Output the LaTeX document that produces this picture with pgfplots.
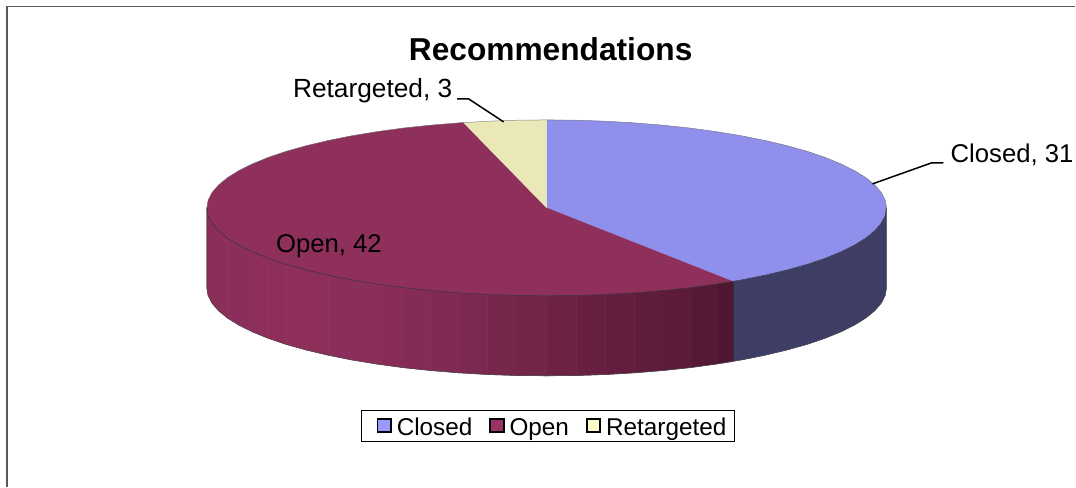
\documentclass[border=0pt]{standalone}
\usepackage{pgfplots}
\pgfplotsset{compat=1.18}
\usepackage{fontspec}
\setmainfont{Liberation Sans}
\definecolor{cTop}{HTML}{8F8FEC}
\definecolor{oTop}{HTML}{8E2F5C}
\definecolor{rTop}{HTML}{EBE8B8}
\definecolor{cSide}{HTML}{3D3D66}
\definecolor{oDark}{HTML}{47132C}
\definecolor{cLeg}{HTML}{9999FF}
\definecolor{oLeg}{HTML}{993366}
\definecolor{rLeg}{HTML}{FFFFCC}
\newcommand\band[7]{\addplot[forget plot,fill=oDark!#1!oTop,draw=oDark!#1!oTop,line width=0.6pt] coordinates {(#2,#3)(#4,#5)(#4,#7)(#2,#6)} -- cycle;}
\begin{document}
\begin{tikzpicture}
\begin{axis}[
  width=1076pt,height=487pt,scale only axis,
  xmin=0,xmax=1076,ymin=0,ymax=487,y dir=reverse,
  hide axis,ticks=none,clip=false,
  legend columns=3,
  legend style={at={(axis cs:548.5,426.5)},anchor=center,draw=black,line width=0.9pt,
    font=\fontsize{24.3}{28}\selectfont,inner xsep=6.5pt,inner ysep=3pt,
    /tikz/every odd column/.append style={column sep=3pt},
    /tikz/every even column/.append style={column sep=15pt}},
  legend cell align=left,
]
% frame
\addplot[forget plot,color=black!65,line width=1.3pt] coordinates {(7,487)(7,6.5)(1076,6.5)};
% closed side
\addplot[forget plot,fill=cSide,draw=cSide,line width=0.3pt] coordinates {(887,208)(885.7,215.7)(881.8,223.3)(875.4,230.8)(866.5,238.1)(855.1,245.2)(841.4,252)(825.5,258.5)(807.5,264.6)(787.4,270.2)(765.5,275.4)(742,280.1)(733.2,281.6)(733.2,361.6)(742,360.1)(765.5,355.4)(787.4,350.2)(807.5,344.6)(825.5,338.5)(841.4,332)(855.1,325.2)(866.5,318.1)(875.4,310.8)(881.8,303.3)(885.7,295.7)(887,288)} -- cycle;
% open side bands
\band{90}{733.2}{281.6}{717}{284.2}{361.6}{364.2}
\band{80}{717}{284.2}{690.7}{287.8}{364.2}{367.8}
\band{72}{690.7}{287.8}{663.3}{290.7}{367.8}{370.7}
\band{66}{663.3}{290.7}{635}{293}{370.7}{373}
\band{60}{635}{293}{606}{294.7}{373}{374.7}
\band{54}{606}{294.7}{576.6}{295.7}{374.7}{375.7}
\band{47}{576.6}{295.7}{547}{296}{375.7}{376}
\band{40}{547}{296}{517.4}{295.7}{376}{375.7}
\band{33}{517.4}{295.7}{488}{294.7}{375.7}{374.7}
\band{25}{488}{294.7}{459}{293}{374.7}{373}
\band{18}{459}{293}{430.7}{290.7}{373}{370.7}
\band{12}{430.7}{290.7}{403.3}{287.8}{370.7}{367.8}
\band{8}{403.3}{287.8}{377}{284.2}{367.8}{364.2}
\band{5}{377}{284.2}{352}{280.1}{364.2}{360.1}
\band{3}{352}{280.1}{328.5}{275.4}{360.1}{355.4}
\band{2}{328.5}{275.4}{306.6}{270.2}{355.4}{350.2}
\band{2}{306.6}{270.2}{286.5}{264.6}{350.2}{344.6}
\band{2}{286.5}{264.6}{268.5}{258.5}{344.6}{338.5}
\band{2}{268.5}{258.5}{252.6}{252}{338.5}{332}
\band{3}{252.6}{252}{238.9}{245.2}{332}{325.2}
\band{3}{238.9}{245.2}{227.5}{238.1}{325.2}{318.1}
\band{4}{227.5}{238.1}{218.6}{230.8}{318.1}{310.8}
\band{5}{218.6}{230.8}{212.2}{223.3}{310.8}{303.3}
\band{6}{212.2}{223.3}{208.3}{215.7}{303.3}{295.7}
\band{8}{208.3}{215.7}{207}{208}{295.7}{288}
% top faces
\addplot[forget plot,fill=cTop,draw=cTop,line width=0.2pt] coordinates {(547,208)(547,120)(576.6,120.3)(606,121.3)(635,123)(663.3,125.3)(690.7,128.2)(717,131.8)(742,135.9)(765.5,140.6)(787.4,145.8)(807.5,151.4)(825.5,157.5)(841.4,164)(855.1,170.8)(866.5,177.9)(875.4,185.2)(881.8,192.7)(885.7,200.3)(887,208)(885.7,215.7)(881.8,223.3)(875.4,230.8)(866.5,238.1)(855.1,245.2)(841.4,252)(825.5,258.5)(807.5,264.6)(787.4,270.2)(765.5,275.4)(742,280.1)(733.2,281.6)} -- cycle;
\addplot[forget plot,fill=oTop,draw=oTop,line width=0.2pt] coordinates {(547,208)(733.2,281.6)(717,284.2)(690.7,287.8)(663.3,290.7)(635,293)(606,294.7)(576.6,295.7)(547,296)(517.4,295.7)(488,294.7)(459,293)(430.7,290.7)(403.3,287.8)(377,284.2)(352,280.1)(328.5,275.4)(306.6,270.2)(286.5,264.6)(268.5,258.5)(252.6,252)(238.9,245.2)(227.5,238.1)(218.6,230.8)(212.2,223.3)(208.3,215.7)(207,208)(208.3,200.3)(212.2,192.7)(218.6,185.2)(227.5,177.9)(238.9,170.8)(252.6,164)(268.5,157.5)(286.5,151.4)(306.6,145.8)(328.5,140.6)(352,135.9)(377,131.8)(403.3,128.2)(430.7,125.3)(459,123)(463.8,122.7)} -- cycle;
\addplot[forget plot,fill=rTop,draw=rTop,line width=0.2pt] coordinates {(547,208)(463.8,122.7)(488,121.3)(517.4,120.3)(547,120)} -- cycle;
% edges
\addplot[forget plot,color=black!55,line width=0.5pt,opacity=0.8] coordinates {(207,208)(208.3,200.3)(212.2,192.7)(218.6,185.2)(227.5,177.9)(238.9,170.8)(252.6,164)(268.5,157.5)(286.5,151.4)(306.6,145.8)(328.5,140.6)(352,135.9)(377,131.8)(403.3,128.2)(430.7,125.3)(459,123)(488,121.3)(517.4,120.3)(547,120)(576.6,120.3)(606,121.3)(635,123)(663.3,125.3)(690.7,128.2)(717,131.8)(742,135.9)(765.5,140.6)(787.4,145.8)(807.5,151.4)(825.5,157.5)(841.4,164)(855.1,170.8)(866.5,177.9)(875.4,185.2)(881.8,192.7)(885.7,200.3)(887,208)};
\addplot[forget plot,color=black!80,line width=0.5pt] coordinates {(887,208)(885.7,215.7)(881.8,223.3)(875.4,230.8)(866.5,238.1)(855.1,245.2)(841.4,252)(825.5,258.5)(807.5,264.6)(787.4,270.2)(765.5,275.4)(742,280.1)(733.2,281.6)(717,284.2)(690.7,287.8)(663.3,290.7)(635,293)(606,294.7)(576.6,295.7)(547,296)(517.4,295.7)(488,294.7)(459,293)(430.7,290.7)(403.3,287.8)(377,284.2)(352,280.1)(328.5,275.4)(306.6,270.2)(286.5,264.6)(268.5,258.5)(252.6,252)(238.9,245.2)(227.5,238.1)(218.6,230.8)(212.2,223.3)(208.3,215.7)(207,208)};
\addplot[forget plot,color=black!70,line width=0.5pt] coordinates {(887,208)(887,288)(885.7,295.7)(881.8,303.3)(875.4,310.8)(866.5,318.1)(855.1,325.2)(841.4,332)(825.5,338.5)(807.5,344.6)(787.4,350.2)(765.5,355.4)(742,360.1)(733.2,361.6)(717,364.2)(690.7,367.8)(663.3,370.7)(635,373)(606,374.7)(576.6,375.7)(547,376)(517.4,375.7)(488,374.7)(459,373)(430.7,370.7)(403.3,367.8)(377,364.2)(352,360.1)(328.5,355.4)(306.6,350.2)(286.5,344.6)(268.5,338.5)(252.6,332)(238.9,325.2)(227.5,318.1)(218.6,310.8)(212.2,303.3)(208.3,295.7)(207,288)(207,208)};
\addplot[forget plot,color=black!80,line width=0.5pt] coordinates {(733.2,281.6)(733.2,361.6)};
% leader lines
\addplot[forget plot,color=black,line width=1.5pt] coordinates {(457.5,99)(469,99)(504,122)};
\addplot[forget plot,color=black,line width=1.5pt] coordinates {(873,184)(932,163)(944,163)};
% legend
\addlegendimage{legend image code/.code={\path (-9pt,0pt); \draw[black,line width=1.7pt,fill=cLeg] (0pt,-6pt) rectangle (13.5pt,7.5pt);}}
\addlegendentry{Closed\strut}
\addlegendimage{legend image code/.code={\draw[black,line width=1.7pt,fill=oLeg] (0pt,-6pt) rectangle (13.5pt,7.5pt);}}
\addlegendentry{Open\strut}
\addlegendimage{legend image code/.code={\draw[black,line width=1.7pt,fill=rLeg] (0pt,-6pt) rectangle (13.5pt,7.5pt);}}
\addlegendentry{Retargeted\strut}
% text
\node[anchor=base,inner sep=0pt,font=\fontsize{31.7}{36}\selectfont\bfseries] at (axis cs:551,61) {Recommendations};
\node[anchor=base west,inner sep=0pt,font=\fontsize{26.3}{30}\selectfont] at (axis cs:293,98) {Retargeted, 3};
\node[anchor=base west,inner sep=0pt,font=\fontsize{25.7}{30}\selectfont] at (axis cs:951,163) {Closed, 31};
\node[anchor=base west,inner sep=0pt,font=\fontsize{25.7}{30}\selectfont] at (axis cs:276,253) {Open, 42};
\path (axis cs:0,0) rectangle (axis cs:1076,487);
\end{axis}
\end{tikzpicture}
\end{document}
